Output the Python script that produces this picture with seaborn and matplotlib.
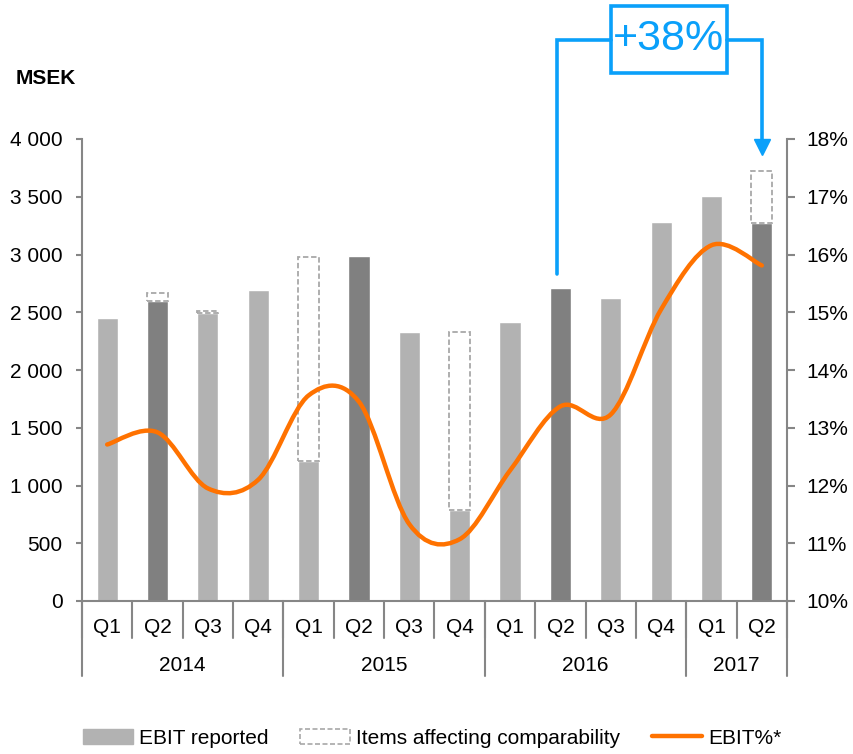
import numpy as np
import pandas as pd
import seaborn as sns
import matplotlib.pyplot as plt
from matplotlib.path import Path
from matplotlib.patches import PathPatch, Patch, Rectangle
from matplotlib.lines import Line2D

# data
years = ['2014', '2015', '2016', '2017']
quarters = ['Q1', 'Q2', 'Q3', 'Q4', 'Q1', 'Q2', 'Q3', 'Q4', 'Q1', 'Q2', 'Q3', 'Q4', 'Q1', 'Q2']
year_of = ['2014'] * 4 + ['2015'] * 4 + ['2016'] * 4 + ['2017'] * 2
ebit = [2450, 2600, 2495, 2690, 1210, 2985, 2330, 787, 2414, 2714, 2621, 3278, 3505, 3274]
items = [0, 70, 20, 0, 1770, 0, 0, 1540, 0, 0, 0, 0, 0, 450]
ebit_pct = [12.71, 12.92, 11.95, 12.10, 13.56, 13.45, 11.33, 11.07, 12.26, 13.37, 13.23, 15.05, 16.16, 15.81]

LIGHT = '#B2B2B2'
DARK = '#808080'
AXC = '#868686'
ORANGE = '#FF7200'
BLUE = '#0AA0FA'

sns.set_style('white')
plt.rcParams['font.family'] = ['Liberation Sans', 'DejaVu Sans']
plt.rcParams['text.color'] = 'black'
plt.rcParams['ytick.labelcolor'] = 'black'

df = pd.DataFrame({'label': [y + ' ' + q for y, q in zip(year_of, quarters)],
                   'quarter': quarters, 'year': year_of, 'ebit': ebit, 'items': items})
colors = [DARK if q == 'Q2' else LIGHT for q in df['quarter']]

fig = plt.figure(figsize=(8.54, 7.54), dpi=100)
ax = fig.add_axes([82 / 854, 1 - 601 / 754, 705 / 854, 462 / 754])

sns.barplot(data=df, x='label', y='ebit', hue='label', palette=colors, width=0.42,
            saturation=1, legend=False, ax=ax)
pos = np.arange(len(df))
m = df['items'] > 0
ax.bar(pos[m], df['items'][m], bottom=df['ebit'][m], width=0.42, fill=False,
       edgecolor='#A8A8A8', linestyle=(0, (3, 1.5)), linewidth=1.3)

ax.set_xlim(-0.5, len(df) - 0.5)
ax.set_ylim(0, 4000)
ax.set_yticks(range(0, 4001, 500))
ax.set_yticklabels([f'{v:,}'.replace(',', ' ') for v in range(0, 4001, 500)])
ax.set_xticks([])
ax.set_xlabel('')
ax.set_ylabel('')
for s in ['top', 'right']:
    ax.spines[s].set_visible(False)
for s in ['left', 'bottom']:
    ax.spines[s].set_color(AXC)
    ax.spines[s].set_linewidth(1.5)
ax.tick_params(axis='y', direction='out', length=4, width=1.5, color=AXC,
               labelsize=15, pad=10, left=True, labelcolor='black')

# category axis: quarter and year labels with separators
tr = ax.get_xaxis_transform()
for i, q in enumerate(quarters):
    ax.text(i, -0.057, q, transform=tr, ha='center', va='center', fontsize=15)
for k in range(len(df) + 1):
    ax.plot([k - 0.5, k - 0.5], [0, -0.08], transform=tr, color=AXC, lw=1.5, clip_on=False)
bounds = [-0.5]
for y in years:
    idx = [i for i, yy in enumerate(year_of) if yy == y]
    ax.text(np.mean(idx), -0.14, y, transform=tr, ha='center', va='center', fontsize=15)
    bounds.append(idx[-1] + 0.5)
for b in bounds:
    ax.plot([b, b], [0, -0.163], transform=tr, color=AXC, lw=1.5, clip_on=False)

# EBIT% on the right axis, smoothed like the original
ax2 = ax.twinx()
ax2.set_ylim(10, 18)
ax2.set_yticks(range(10, 19))
ax2.set_yticklabels([f'{v}%' for v in range(10, 19)])
for s in ['top', 'left', 'bottom']:
    ax2.spines[s].set_visible(False)
ax2.spines['right'].set_color(AXC)
ax2.spines['right'].set_linewidth(1.5)
ax2.tick_params(axis='y', direction='out', length=6, width=1.5, color=AXC,
                labelsize=15, pad=8, right=True, labelcolor='black')
ax2.grid(False)

P = np.column_stack([pos, ebit_pct]).astype(float)
verts = [P[0]]
codes = [Path.MOVETO]
n = len(P)
for i in range(n - 1):
    p0 = P[i - 1] if i > 0 else P[i]
    p1, p2 = P[i], P[i + 1]
    p3 = P[i + 2] if i + 2 < n else P[i + 1]
    verts += [p1 + (p2 - p0) / 6, p2 - (p3 - p1) / 6, p2]
    codes += [Path.CURVE4] * 3
ax2.add_patch(PathPatch(Path(verts, codes), fill=False, edgecolor=ORANGE, lw=3.2,
                        capstyle='round'))

# +38% callout
ax.plot([8.94, 8.94, 10.0], [2830, 4857, 4857], color=BLUE, lw=2.6, clip_on=False,
        solid_joinstyle='miter')
ax.plot([12.31, 13.0, 13.0], [4857, 4857, 3990], color=BLUE, lw=2.6, clip_on=False,
        solid_joinstyle='miter')
ax.plot([13.0], [3930], marker='v', markersize=12, color=BLUE, clip_on=False)
ax.add_patch(Rectangle((10.0, 4571), 2.31, 581, fill=True, facecolor='white',
                       edgecolor=BLUE, lw=2.6, clip_on=False))
ax.text(11.155, 4862, '+38%', ha='center', va='center', fontsize=31, color=BLUE)

fig.text(16 / 854, 1 - 78 / 754, 'MSEK', fontsize=15, fontweight='bold', va='center')

handles = [Patch(facecolor=LIGHT, edgecolor=LIGHT),
           Patch(facecolor='white', edgecolor='#A8A8A8', linestyle=(0, (3, 1.5)), linewidth=1.2),
           Line2D([0], [0], color=ORANGE, lw=3.2)]
fig.legend(handles, ['EBIT reported', 'Items affecting comparability', 'EBIT%*'],
           loc='center', bbox_to_anchor=(0.506, 1 - 738 / 754), ncol=3, frameon=False,
           fontsize=15, handlelength=2.4, handletextpad=0.3, columnspacing=1.5)

fig.savefig('out.png', dpi=100)
